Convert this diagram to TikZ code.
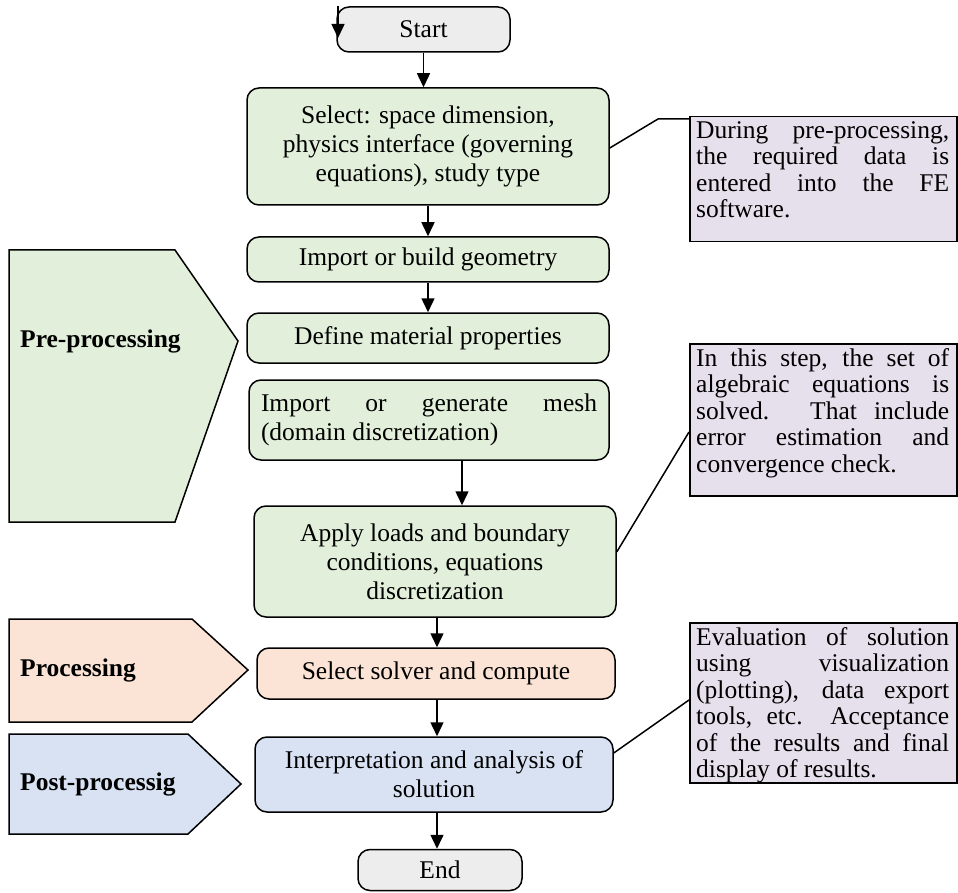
\documentclass[tikz,border=0pt]{standalone}
\usepackage{fontspec}
\setmainfont{Liberation Serif}
\usetikzlibrary{arrows.meta}
\definecolor{gfill}{HTML}{E2EFDA}
\definecolor{ofill}{HTML}{FBE4D5}
\definecolor{bfill}{HTML}{D9E2F3}
\definecolor{kfill}{HTML}{EDEDED}
\definecolor{pfill}{HTML}{E5E0EC}
\tikzset{
  box/.style={draw=black, line width=1.5pt, rounded corners=12pt, align=center, inner sep=0pt, font=\fontsize{25.5}{29}\selectfont},
  notebox/.style={draw=black, line width=1.5pt, fill=pfill, anchor=north west, inner sep=0pt, minimum width=267pt},
  notetext/.style={anchor=north west, inner xsep=7pt, inner ysep=5pt, text width=253pt, align=justify, font=\fontsize{25.5}{26.5}\selectfont},
  arr/.style={line width=1.5pt, -{Triangle[width=13pt,length=14pt]}},
  conn/.style={line width=1.5pt},
  tab/.style={draw=black, line width=1.5pt},
  tablabel/.style={anchor=west, font=\fontsize{25.5}{29}\selectfont\bfseries, inner sep=0pt},
}
\begin{document}
\begin{tikzpicture}[x=1pt,y=-1pt]
\useasboundingbox (0,0) rectangle (958,893);
% main flow boxes
\node[box, fill=kfill, minimum width=173pt, minimum height=45pt] (start) at (423.5,29.5) {Start};
\node[box, fill=gfill, minimum width=362pt, minimum height=117pt] (select) at (428,146.5) {Select: space dimension,\\physics interface (governing\\equations), study type};
\node[box, fill=gfill, minimum width=362pt, minimum height=45pt] (geom) at (428,259.5) {Import or build geometry};
\node[box, fill=gfill, minimum width=362pt, minimum height=50pt] (mat) at (428,338) {Define material properties};
\node[box, fill=gfill, minimum width=360pt, minimum height=80pt, text width=336pt, align=justify] (mesh) at (429,420) {Import or generate mesh\linebreak (domain discretization)};
\node[box, fill=gfill, minimum width=362pt, minimum height=111pt] (loads) at (435,561.5) {Apply loads and boundary\\conditions, equations\\discretization};
\node[box, fill=ofill, minimum width=358pt, minimum height=51pt] (solve) at (436,673.5) {Select solver and compute};
\node[box, fill=bfill, minimum width=358pt, minimum height=75pt] (interp) at (434,774.5) {Interpretation and analysis of\\solution};
\node[box, fill=kfill, minimum width=164pt, minimum height=41pt] (end) at (440,870) {End};

% arrows
\coordinate (stray) at (338,6);
\coordinate (strayend) at (338,38);
\draw[arr] (stray) -- (strayend);
\draw[arr] (start.south) -- (start.south |- select.north);
\draw[arr] (select.south) -- (geom.north);
\draw[arr] (geom.south) -- (mat.north);
\draw[arr] ([xshift=33pt]mesh.south) -- ([xshift=33pt]mesh.south |- loads.north);
\draw[arr] ([xshift=2pt]loads.south) -- ([xshift=2pt]loads.south |- solve.north);
\draw[arr] ([xshift=1pt]solve.south) -- ([xshift=1pt]solve.south |- interp.north);
\draw[arr] ([xshift=3pt]interp.south) -- ([xshift=3pt]interp.south |- end.north);

% side tabs
\draw[tab, fill=gfill] (9,250) -- (175,250) -- (238,341) -- (175,522) -- (9,522) -- cycle;
\node[tablabel] (pre) at (20,341) {Pre-processing};
\draw[tab, fill=ofill] (9,619) -- (192,619) -- (248,670) -- (192,722) -- (9,722) -- cycle;
\node[tablabel] (proc) at (20,670) {Processing};
\draw[tab, fill=bfill] (9,734) -- (188,734) -- (241,784) -- (188,834) -- (9,834) -- cycle;
\node[tablabel] (post) at (20,784) {Post-processig};

% callouts
\node[notebox, minimum height=125pt] (n1) at (689,116) {};
\node[notetext] (n1t) at (n1.north west) {During pre-processing,\linebreak the required data is\linebreak entered into the FE\linebreak software.};
\node[notebox, minimum height=152pt] (n2) at (689,343) {};
\node[notetext] (n2t) at (n2.north west) {In this step, the set of\linebreak algebraic equations is\linebreak solved. That include\linebreak error estimation and\linebreak convergence check.};
\node[notebox, minimum height=160pt] (n3) at (689,622) {};
\node[notetext] (n3t) at (n3.north west) {Evaluation of solution\linebreak using visualization\linebreak (plotting), data export\linebreak tools, etc. Acceptance\linebreak of the results and final\linebreak display of results.};

\coordinate (k1) at (658,119);
\draw[conn] (select.east |- 0,148) -- (k1) -- (k1 -| n1.west);
\draw[conn] (loads.east |- 0,552) -- (n2.west |- 0,432);
\draw[conn] (interp.east |- 0,753) -- (n3.west |- 0,700);
\end{tikzpicture}
\end{document}
